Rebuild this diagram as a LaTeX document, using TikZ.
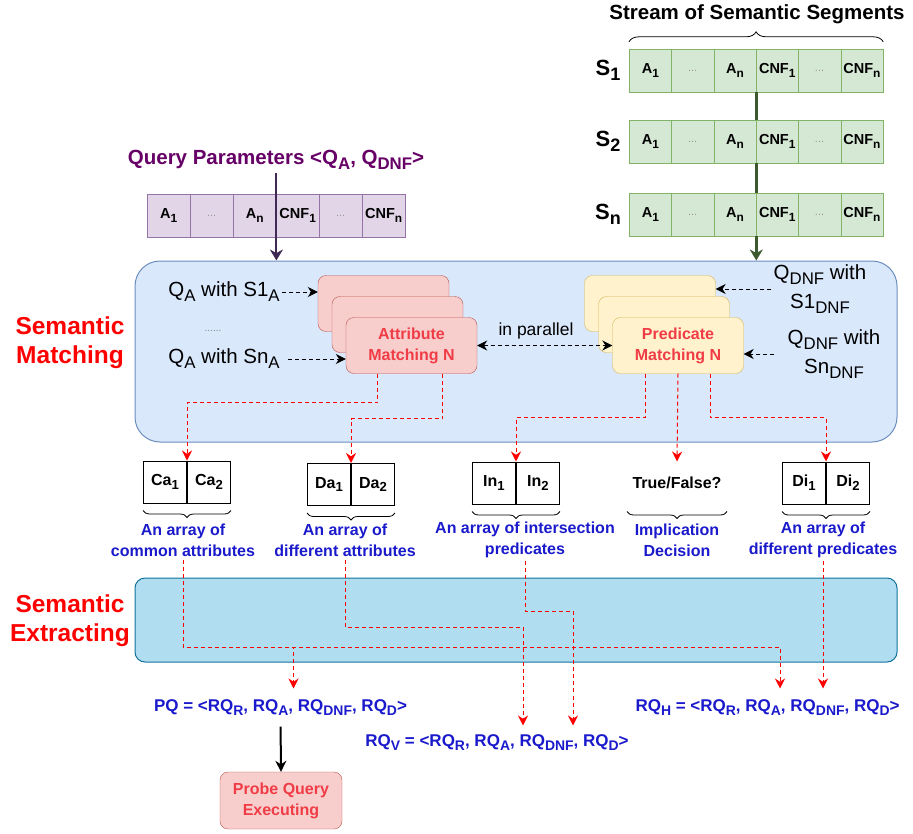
\documentclass[tikz,border=0pt]{standalone}
\usepackage{fontspec}
\setmainfont{Liberation Sans}
\usetikzlibrary{positioning,arrows.meta,decorations.pathreplacing}

\definecolor{segfill}{HTML}{D5E8D4}
\definecolor{segline}{HTML}{82B366}
\definecolor{segarrow}{HTML}{3D5A2E}
\definecolor{qfill}{HTML}{E1D5E7}
\definecolor{qline}{HTML}{9673A6}
\definecolor{qtext}{HTML}{660066}
\definecolor{qarrow}{HTML}{3E2A52}
\definecolor{matchfill}{HTML}{DAE8FC}
\definecolor{matchline}{HTML}{6C8EBF}
\definecolor{attrfill}{HTML}{F8CECC}
\definecolor{attrline}{HTML}{B85450}
\definecolor{predfill}{HTML}{FFF2CC}
\definecolor{predline}{HTML}{D6B656}
\definecolor{extrfill}{HTML}{B1DDF0}
\definecolor{extrline}{HTML}{10739E}
\definecolor{boxred}{HTML}{F03C46}
\definecolor{labblue}{HTML}{1A1ACC}

\newcommand{\fsz}[2]{\fontsize{#1}{#2}\selectfont}
\newcommand{\lowsub}[1]{\raisebox{-0.24em}{\scalebox{0.82}{#1}}}
\newcommand{\celldots}{{\mdseries\color{gray!80}\fsz{11}{11}...}}
% one row of six cells: name, x of left edge, y, cell width, style
\newcommand{\cellrow}[5]{%
  \foreach \i/\txt in {1/{A\lowsub{1}},2/{\celldots},3/{A\lowsub{n}},
                       4/{CNF\lowsub{1}},5/{\celldots},6/{CNF\lowsub{n}}}
    \node[#5, minimum width=#4pt, anchor=west] (#1\i) at ({#2+(\i-1)*#4},#3) {\txt};
}

\tikzset{
  seg/.style={draw=segline, fill=segfill, minimum height=43pt, inner sep=0pt,
    font={\bfseries\fsz{14.5}{18}}},
  qcell/.style={seg, draw=qline, fill=qfill},
  rowlab/.style={font={\bfseries\fsz{22}{26}}},
  title/.style={font={\bfseries\fsz{20.5}{24}}},
  plain/.style={inner sep=2pt, font={\fsz{20.5}{29}}, align=center},
  attr/.style={draw=attrline, fill=attrfill, rounded corners=8pt, minimum width=131pt,
    minimum height=56pt, align=center, text=boxred, font={\bfseries\fsz{16}{21}}},
  pred/.style={attr, draw=predline, fill=predfill},
  arr/.style={draw, line width=1pt, minimum width=43pt, minimum height=42pt, inner sep=0pt,
    font={\bfseries\fsz{16}{18}}},
  brc/.style={decorate, decoration={brace, amplitude=7pt}, line width=0.8pt},
  bluelab/.style={text=labblue, align=center, font={\bfseries\fsz{16}{21}}},
  bigred/.style={text=red, align=center, font={\bfseries\fsz{24.5}{29}}},
  outtext/.style={text=labblue, font={\bfseries\fsz{17}{20}}},
  blkdash/.style={->, line width=0.9pt, dash pattern=on 4pt off 3pt},
  reddash/.style={->, red, line width=1pt, dash pattern=on 4pt off 3pt},
}

\begin{document}
\begin{tikzpicture}[x=1pt, y=-1pt, >={Stealth[length=10pt, width=10pt]}]
    \useasboundingbox (0,0) rectangle (913,833);

    % the two big areas
    \node[draw=matchline, fill=matchfill, line width=1pt, rounded corners=25pt,
          minimum width=762pt, minimum height=181pt] (match) at (516,351.5) {};
    \node[bigred] (smlab) at (70,343) {Semantic\\Matching};
    \node[draw=extrline, fill=extrfill, line width=1pt, rounded corners=10pt,
          minimum width=762pt, minimum height=84pt] (extr) at (516,620) {};
    \node[bigred] (selab) at (70,621) {Semantic\\Extracting};

    % stream of segments
    \node[title] (stream) at (757,14) {Stream of Semantic Segments};
    \foreach \r/\y in {1/70.5, 2/141.5, n/214.5} {
        \node[rowlab] (lab\r) at (608,\y) {S\lowsub{\r}};
        \cellrow{s\r}{629}{\y}{42.3}{seg}
    }
    \draw[decorate, decoration={brace, amplitude=10pt}, line width=0.8pt]
        ([yshift=7pt]s11.north west) -- ([yshift=7pt]s16.north east);
    \draw[segarrow, line width=2.4pt] (s13.south east) -- (s23.north east);
    \draw[segarrow, line width=2.4pt] (s23.south east) -- (sn3.north east);
    \draw[segarrow, line width=2.4pt, -{Stealth[length=11pt, width=13pt]}]
        (sn3.south east) -- (sn3.south east |- match.north);

    % query parameters
    \node[title, text=qtext] (qp) at (276,160)
        {Query Parameters \textless Q\lowsub{A}, Q\lowsub{DNF}\textgreater};
    \cellrow{q}{147}{215.5}{43}{qcell}
    \draw[qarrow, line width=2pt, -{Stealth[length=11pt, width=13pt]}]
        (qp.south -| q3.south east) -- (q3.south east |- match.north);

    % matching stacks
    \node[attr] (am1) at (383.5,303.5) {};
    \node[attr] (am2) at (397.5,324.5) {};
    \node[attr] (am3) at (411.5,345.5) {Attribute\\Matching N};
    \node[pred] (pm1) at (650,303.5) {};
    \node[pred] (pm2) at (664,324.5) {};
    \node[pred] (pm3) at (678,345.5) {Predicate\\Matching N};

    \node[plain] (qa1) at (224,292) {Q\lowsub{A} with S1\lowsub{A}};
    \node[text=gray, font=\fsz{10}{10}] (qadots) at (213,331) {......};
    \node[plain] (qan) at (224,359) {Q\lowsub{A} with Sn\lowsub{A}};
    \node[plain] (qd1) at (820,289) {Q\lowsub{DNF} with\\S1\lowsub{DNF}};
    \node[plain] (qdn) at (834,354) {Q\lowsub{DNF} with\\Sn\lowsub{DNF}};
    \node[font=\fsz{17.5}{20}] (par) at (536,331) {in parallel};

    \draw[blkdash] (qa1.east) -- (qa1.east -| am1.west);
    \draw[blkdash] ([xshift=6pt]qan.east) -- (qan.east -| am3.west);
    \draw[blkdash] (qd1.west) -- (qd1.west -| pm1.east);
    \draw[blkdash] ([xshift=-11pt]qdn.west) -- (qdn.west -| pm3.east);
    \draw[blkdash, <->] (am3.east) -- (pm3.west);

    % arrays
    \foreach \n/\txt/\x/\y in {ca/Ca/187/482, da/Da/351/484.5, in/In/516/483, di/Di/826/483} {
        \node[arr, anchor=east] (\n1) at (\x,\y) {\txt\lowsub{1}};
        \node[arr, anchor=west] (\n2) at (\x,\y) {\txt\lowsub{2}};
        \draw[brc] ([yshift=-7pt]\n2.south east) -- ([yshift=-7pt]\n1.south west);
    }
    \node[arr, draw=none, minimum width=99pt] (tf) at (677,483) {True/False?};
    \draw[brc] ([yshift=-7pt]tf.south east) -- ([yshift=-7pt]tf.south west);

    \node[bluelab] (lca) at (183,540) {An array of\\common attributes};
    \node[bluelab] (lda) at (345,540) {An array of\\different attributes};
    \node[bluelab] (lin) at (525,540) {An array of intersection\\predicates};
    \node[bluelab] (lim) at (677,540) {Implication\\Decision};
    \node[bluelab] (ldi) at (823,540) {An array of\\different predicates};

    \draw[reddash] ([xshift=-34pt]am3.south) -- ++(0,29) -| (ca1.north east);
    \draw[reddash] ([xshift=31pt]am3.south) -- ++(0,45) -| (da1.north east);
    \draw[reddash] ([xshift=-33pt]pm3.south) -- ++(0,44) -| (in1.north east);
    \draw[reddash] (pm3.south) -- (tf.north);
    \draw[reddash] ([xshift=32pt]pm3.south) -- ++(0,44) -| (di1.north east);

    % extracted queries
    \node[outtext] (pq) at (280.5,708)
        {PQ = \textless RQ\lowsub{R}, RQ\lowsub{A}, RQ\lowsub{DNF}, RQ\lowsub{D}\textgreater};
    \node[outtext, anchor=west] (rqh) at (632,708)
        {RQ\lowsub{H} = \textless RQ\lowsub{R}, RQ\lowsub{A}, RQ\lowsub{DNF}, RQ\lowsub{D}\textgreater};
    \node[outtext] (rqv) at (497,743)
        {RQ\lowsub{V} = \textless RQ\lowsub{R}, RQ\lowsub{A}, RQ\lowsub{DNF}, RQ\lowsub{D}\textgreater};
    \node[attr, minimum width=122pt, minimum height=57pt] (probe) at (281,800.5) {Probe Query\\Executing};

    \coordinate (laneA) at (0,647);
    \coordinate (laneB) at (0,627);
    \coordinate (laneC) at (0,611);
    \draw[reddash, shorten >=8pt] (lca.south) -- (lca.south |- laneA) -| ([xshift=13pt]pq.north);
    \draw[reddash, shorten >=8pt] (lca.south) -- (lca.south |- laneA) -| ([xshift=148pt]rqh.north west);
    \draw[reddash, shorten >=6pt] (lda.south) -- (lda.south |- laneB) -| ([xshift=26pt]rqv.north);
    \draw[reddash, shorten >=6pt] (lin.south) -- (lin.south |- laneC) -| ([xshift=76pt]rqv.north);
    \draw[reddash, shorten >=8pt] (ldi.south) -- (ldi.south |- rqh.north);
    \draw[->, line width=2pt, shorten <=7pt, >={Stealth[length=11pt, width=11pt]}] (pq.south) -- (probe.north);
\end{tikzpicture}
\end{document}
